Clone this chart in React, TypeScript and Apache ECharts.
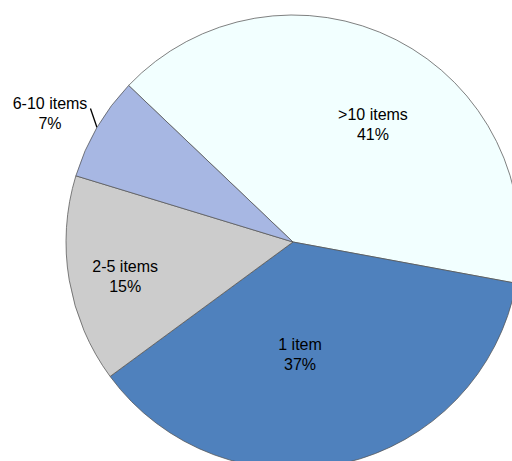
import React, { useEffect, useRef } from "react";
import * as echarts from "echarts";

const categories = [">10 items", "1 item", "2-5 items", "6-10 items"];
const shares = [40.8, 37.0, 14.8, 7.4];
const colors = ["#F2FFFF", "#4F81BD", "#CCCCCC", "#A7B7E3"];

export default function App() {
  const ref = useRef<HTMLDivElement>(null);
  useEffect(() => {
    if (!ref.current) return;
    const chart = echarts.init(ref.current, null, { renderer: "svg" });
    const labelShift: Record<number, [number, number]> = {
      0: [27, -14],
      1: [-19, -1],
      2: [-53, 15],
    };
    chart.setOption({
      animation: false,
      backgroundColor: "#ffffff",
      series: [
        {
          type: "pie",
          center: [293, 242],
          radius: 227,
          startAngle: 136.4,
          clockwise: true,
          avoidLabelOverlap: false,
          itemStyle: { borderColor: "#555555", borderWidth: 0.75 },
          label: {
            show: true,
            position: "inside",
            fontFamily: "'Liberation Sans', Arial, sans-serif",
            fontSize: 16,
            lineHeight: 20,
            color: "#000000",
            formatter: (p: any) => `${p.name}\n${Math.round(p.value)}%`,
          },
          labelLine: { show: false },
          labelLayout: (params: any) => {
            const i = params.dataIndex;
            if (i === 3) {
              const p0 = params.labelLinePoints
                ? params.labelLinePoints[0]
                : [97, 128];
              return {
                x: 50,
                y: 113,
                align: "center",
                verticalAlign: "middle",
                labelLinePoints: [p0, [p0[0] - 6.5, p0[1] - 19], [p0[0] - 6.5, p0[1] - 19]],
              };
            }
            const s = labelShift[i] || [0, 0];
            return { dx: s[0], dy: s[1] };
          },
          data: categories.map((name, i) => {
            const d: any = {
              name,
              value: shares[i],
              itemStyle: { color: colors[i] },
            };
            if (i === 3) {
              d.label = { position: "outside", textAlign: "center" };
              d.labelLine = {
                show: true,
                length: 20,
                length2: 0,
                lineStyle: { color: "#000000", width: 1.3 },
              };
            }
            return d;
          }),
        },
      ],
    });
    return () => chart.dispose();
  }, []);
  return (
    <div
      ref={ref}
      style={{ position: "fixed", left: 0, top: 0, width: 512, height: 461 }}
    />
  );
}
